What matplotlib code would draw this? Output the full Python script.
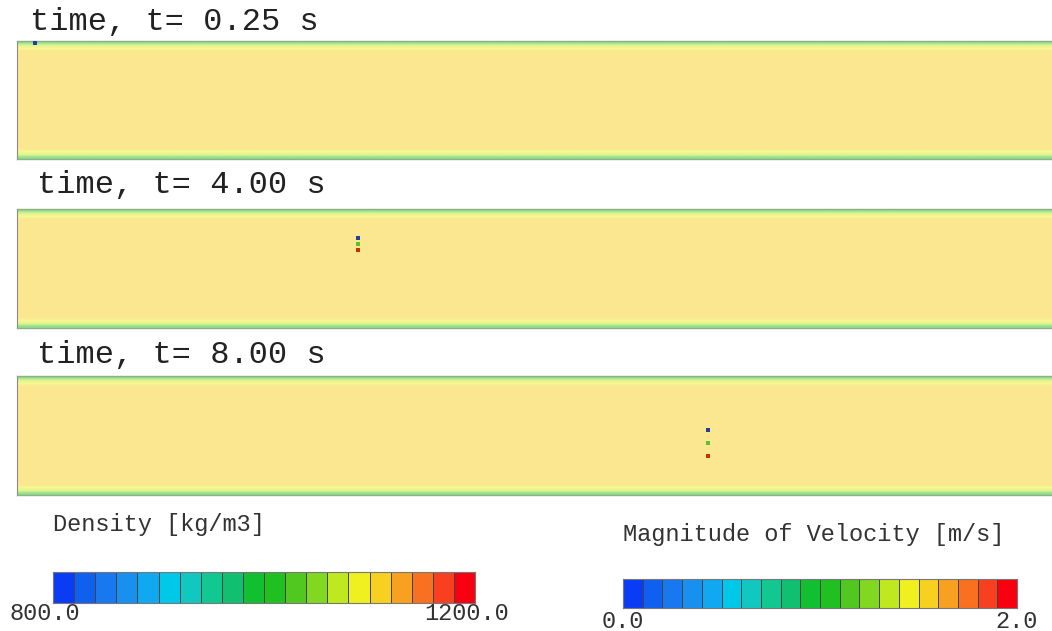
import numpy as np
import matplotlib
matplotlib.use("Agg")
import matplotlib.pyplot as plt
from matplotlib.colors import ListedColormap, BoundaryNorm
import matplotlib.transforms as mtransforms

W, H = 1052, 631

# 20-step legend palette (blue -> red)
cell_colors = ["#0a3cf5", "#1060f0", "#1778f0", "#1890f0", "#10a8f0",
               "#00c8e8", "#10c8c0", "#10c890", "#10c070", "#10c030",
               "#20c020", "#50c820", "#80d820", "#c0e820", "#f0f020",
               "#f8d020", "#f8a020", "#f87020", "#f84020", "#f80010"]

times = ["0.25", "4.00", "8.00"]
density_range = [800.0, 1200.0]
velocity_range = [0.0, 2.0]

# wall-normal velocity profile in the channel (m/s), bottom wall -> top wall
wall_profile = [1.05, 1.3, 1.45]
core_velocity = 1.55
n_core = 34

# tracer particles: x position (m), heights (fraction of channel), colours
particle_x = [0.17, 3.29, 6.68]
particle_y = [[0.985, 0.985, 0.985], [0.756, 0.706, 0.655], [0.546, 0.437, 0.328]]
particle_colors = ["#2a3aa0", "#5cc030", "#c83010"]  # blue (top), green, red (bottom)
draw_order = [2, 1, 0]  # blue drawn last so it stays on top

channel_length = 10.0

cmap = ListedColormap(cell_colors)


def fig_rect(x0, y0, x1, y1):
    return [x0 / W, 1 - y1 / H, (x1 - x0) / W, (y1 - y0) / H]


fig = plt.figure(figsize=(W / 100, H / 100), dpi=100)
fig.patch.set_facecolor("white")
mono = "Liberation Mono"

panels = [(41, 159, 30, 22), (209, 328, 37, 185), (376, 495, 37, 355)]
profile = np.array(wall_profile + [core_velocity] * n_core + wall_profile[::-1])

for i, (top, bot, tx, ty) in enumerate(panels):
    ax = fig.add_axes(fig_rect(17, top, W, bot))
    field = profile[::-1, None] * np.ones((1, 2))
    ax.imshow(field, cmap=cmap, vmin=velocity_range[0], vmax=velocity_range[1],
              extent=[0, channel_length, 0, 1], aspect="auto",
              interpolation="bilinear", alpha=0.5)
    for k in draw_order:
        ax.scatter(particle_x[i], particle_y[i][k], s=8, marker="s",
                   color=particle_colors[k], linewidths=0, zorder=3)
    ax.set_xlim(0, channel_length)
    ax.set_ylim(0, 1)
    ax.set_xticks([])
    ax.set_yticks([])
    ax.spines["right"].set_visible(False)
    ax.spines["left"].set_color("#8a8a8a")
    for s in ("top", "bottom"):
        ax.spines[s].set_color("#8fb080")
        ax.spines[s].set_linewidth(1.0)
    fig.text(tx / W, 1 - ty / H, f"time, t= {times[i]} s", fontsize=23,
             family=mono, color="#222222", ha="left", va="center")


def legend_bar(x0, y0, x1, y1, vrange, label, lx, ly, fmt, tick_y, shift):
    ax = fig.add_axes(fig_rect(x0, y0, x1, y1))
    edges = np.linspace(vrange[0], vrange[1], len(cell_colors) + 1)
    norm = BoundaryNorm(edges, cmap.N)
    centers = 0.5 * (edges[:-1] + edges[1:])
    ax.pcolormesh(edges, [0, 1], centers[None, :], cmap=cmap, norm=norm,
                  edgecolors="#444444", linewidth=0.7)
    ax.set_xlim(vrange)
    ax.set_ylim(0, 1)
    ax.set_xticks([])
    ax.set_yticks([])
    for s in ax.spines.values():
        s.set_color("#777777")
        s.set_linewidth(0.8)
    trans = mtransforms.blended_transform_factory(ax.transData, fig.transFigure)
    off = mtransforms.ScaledTranslation(shift / 100, 0, fig.dpi_scale_trans)
    for v in vrange:
        ax.text(v, 1 - tick_y / H, fmt.format(v), transform=trans + off,
                fontsize=17, family=mono, color="#333333",
                ha="center", va="center", clip_on=False)
    fig.text(lx / W, 1 - ly / H, label, fontsize=17, family=mono,
             color="#333333", ha="left", va="center")


legend_bar(53, 572, 475, 603, density_range, "Density [kg/m3]", 53, 525,
           "{:.1f}", 613, -8)
legend_bar(623, 579, 1017, 608, velocity_range, "Magnitude of Velocity [m/s]",
           623, 535, "{:.1f}", 621, 0)

fig.savefig("out.png", dpi=100, facecolor="white")
